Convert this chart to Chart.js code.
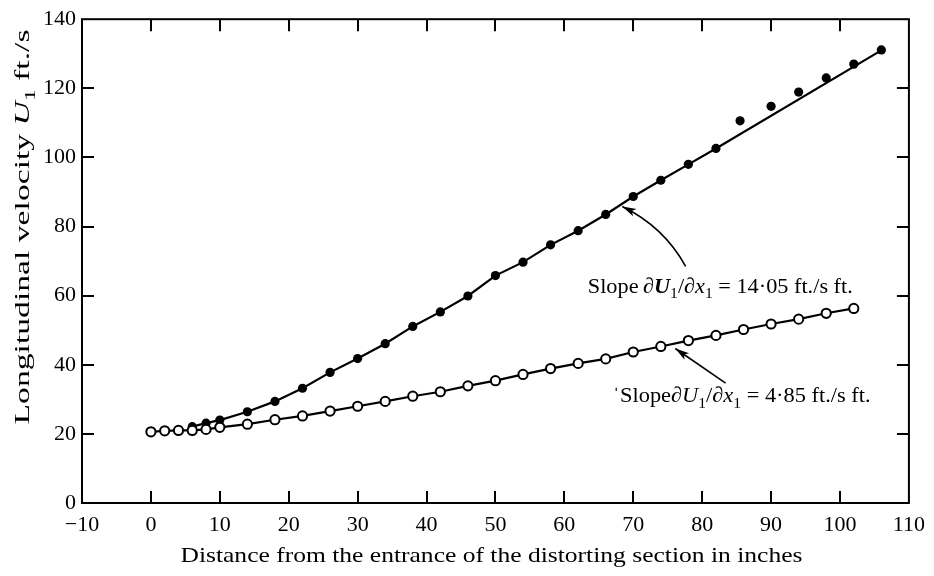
<!DOCTYPE html>
<html>
<head>
<meta charset="utf-8">
<script src="https://cdn.jsdelivr.net/npm/chart.js@4.4.0/dist/chart.umd.min.js"></script>
<style>
  html, body { margin: 0; padding: 0; background: #fff; }
  #wrap { width: 934px; height: 576px; }
</style>
</head>
<body>
<div id="wrap"><canvas id="myChart" width="934" height="576"></canvas></div>
<script>
// open circles (lower curve)
var xOpen = [0, 2, 4, 6, 8, 10, 14, 18, 22, 26, 30, 34, 38, 42, 46, 50, 54, 58, 62, 66, 70, 74, 78, 82, 86, 90, 94, 98, 102];
var yOpen = [20.6, 20.9, 21.0, 21.0, 21.3, 21.9, 22.8, 24.1, 25.2, 26.6, 28.0, 29.4, 30.9, 32.2, 33.9, 35.4, 37.2, 38.9, 40.4, 41.7, 43.7, 45.3, 47.0, 48.5, 50.2, 51.8, 53.2, 54.9, 56.3];

// filled circles (upper curve)
var xFilled = [6, 8, 10, 14, 18, 22, 26, 30, 34, 38, 42, 46, 50, 54, 58, 62, 66, 70, 74, 78, 82, 85.5, 90, 94, 98, 102, 106];
var yFilled = [22.1, 23.1, 24.0, 26.4, 29.4, 33.2, 37.8, 41.8, 46.1, 51.1, 55.3, 59.9, 65.8, 69.7, 74.7, 78.8, 83.5, 88.7, 93.4, 98.0, 102.6, 110.6, 114.8, 118.9, 123.0, 127.0, 131.1];

// drawn curve through the filled points (straight slope line at the end)
var xFit = [6, 8, 10, 14, 18, 22, 26, 30, 34, 38, 42, 46, 50, 54, 58, 62, 66, 70, 74, 78, 82, 105.5];
var yFit = [22.1, 23.1, 24.0, 26.4, 29.4, 33.2, 37.8, 41.8, 46.1, 51.1, 55.3, 59.9, 65.8, 69.7, 74.7, 78.8, 83.5, 88.7, 93.4, 98.0, 102.6, 130.4];

var xTicks = { min: -10, max: 110, step: 10 };
var yTicks = { min: 0, max: 140, step: 20 };

var xTitle = 'Distance from the entrance of the distorting section in inches';

// annotation labels, anchored in data units
var note1 = { x: 63.4, y: 60.9, width: 265, segs: [
  { t: 'Slope\u2009' }, { t: '\u2202' }, { t: 'U', it: true, b: true }, { t: '1', sub: true },
  { t: '/' }, { t: '\u2202' }, { t: 'x', it: true }, { t: '1', sub: true }, { t: ' = 14\u00b705 ft./s ft.' }
]};
var note2 = { x: 67.0, y: 29.1, width: 258, segs: [
  { t: '\u02c8Slope' }, { t: '\u2202' }, { t: 'U', it: true }, { t: '1', sub: true },
  { t: '/' }, { t: '\u2202' }, { t: 'x', it: true }, { t: '1', sub: true }, { t: ' = 4\u00b785 ft./s ft.' }
]};
// arrows: tail, control, head (data units)
var arrow1 = [[77.6, 68.5], [74.4, 80.0], [68.4, 85.8]];
var arrow2 = [[83.4, 34.7], [79.8, 39.6], [76.1, 44.7]];

var FONT = '"Liberation Serif", "Times New Roman", serif';

function pts(xs, ys) {
  var out = [];
  for (var i = 0; i < xs.length; i++) out.push({ x: xs[i], y: ys[i] });
  return out;
}

function drawRich(ctx, segs, x, y, size, align, targetW) {
  function fontFor(s) {
    var sz = s.sub ? size * 0.7 : size;
    return (s.it ? 'italic ' : '') + (s.b ? 'bold ' : '') + sz + 'px ' + FONT;
  }
  var total = 0;
  segs.forEach(function (s) { ctx.font = fontFor(s); s.w = ctx.measureText(s.t).width; total += s.w; });
  var sx = targetW ? targetW / total : 1;
  ctx.save();
  ctx.translate(x, y);
  ctx.scale(sx, 1);
  var cx = align === 'center' ? -total / 2 : 0;
  ctx.textBaseline = 'alphabetic';
  ctx.textAlign = 'left';
  ctx.fillStyle = '#000';
  segs.forEach(function (s) {
    ctx.font = fontFor(s);
    ctx.fillText(s.t, cx, s.sub ? size * 0.25 : 0);
    cx += s.w;
  });
  ctx.restore();
}

function drawArrow(ctx, sx, sy, a) {
  var p = a.map(function (q) { return [sx.getPixelForValue(q[0]), sy.getPixelForValue(q[1])]; });
  ctx.save();
  ctx.strokeStyle = '#000';
  ctx.lineWidth = 1.6;
  ctx.beginPath();
  ctx.moveTo(p[0][0], p[0][1]);
  ctx.quadraticCurveTo(p[1][0], p[1][1], p[2][0], p[2][1]);
  ctx.stroke();
  var ang = Math.atan2(p[2][1] - p[1][1], p[2][0] - p[1][0]);
  var L = 14, W = 4;
  ctx.translate(p[2][0], p[2][1]);
  ctx.rotate(ang);
  ctx.beginPath();
  ctx.moveTo(0, 0);
  ctx.lineTo(-L, -W);
  ctx.lineTo(-L * 0.75, 0);
  ctx.lineTo(-L, W);
  ctx.closePath();
  ctx.fillStyle = '#000';
  ctx.fill();
  ctx.restore();
}

var framePlugin = {
  id: 'frame',
  afterDraw: function (chart) {
    var ctx = chart.ctx, a = chart.chartArea;
    var sx = chart.scales.x, sy = chart.scales.y;
    ctx.save();
    ctx.strokeStyle = '#000';
    ctx.lineWidth = 2;
    ctx.strokeRect(a.left, a.top, a.right - a.left, a.bottom - a.top);
    var tl = 12;
    ctx.beginPath();
    sx.ticks.forEach(function (t) {
      if (t.value <= xTicks.min || t.value >= xTicks.max) return;
      var px = Math.round(sx.getPixelForValue(t.value));
      ctx.moveTo(px, a.bottom); ctx.lineTo(px, a.bottom - tl);
      ctx.moveTo(px, a.top); ctx.lineTo(px, a.top + tl);
    });
    sy.ticks.forEach(function (t) {
      if (t.value <= yTicks.min || t.value >= yTicks.max) return;
      var py = Math.round(sy.getPixelForValue(t.value));
      ctx.moveTo(a.left, py); ctx.lineTo(a.left + tl, py);
      ctx.moveTo(a.right, py); ctx.lineTo(a.right - tl, py);
    });
    ctx.stroke();
    ctx.restore();

    // axis titles
    drawRich(ctx, [{ t: xTitle }], (a.left + a.right) / 2 - 4, 562, 22, 'center', 622);
    ctx.save();
    ctx.translate(29, 227);
    ctx.rotate(-Math.PI / 2);
    drawRich(ctx, [{ t: 'Longitudinal velocity ' }, { t: 'U', it: true }, { t: '1', sub: true }, { t: ' ft./s' }], 0, 0, 22, 'center', 395);
    ctx.restore();

    // annotations
    [note1, note2].forEach(function (n) {
      drawRich(ctx, n.segs, sx.getPixelForValue(n.x), sy.getPixelForValue(n.y), 22, 'left', n.width);
    });
    drawArrow(ctx, sx, sy, arrow1);
    drawArrow(ctx, sx, sy, arrow2);
  }
};

var ctx = document.getElementById('myChart').getContext('2d');
var myChart = new Chart(ctx, {
  type: 'scatter',
  data: {
    datasets: [
      {
        label: 'open',
        data: pts(xOpen, yOpen),
        showLine: true,
        borderColor: '#000',
        borderWidth: 2.2,
        pointRadius: 4.6,
        pointBorderWidth: 2,
        pointBackgroundColor: '#fff',
        pointBorderColor: '#000',
        tension: 0,
        order: 0
      },
      {
        label: 'filled',
        data: pts(xFilled, yFilled),
        showLine: false,
        pointRadius: 4.6,
        pointBorderWidth: 0,
        pointBackgroundColor: '#000',
        pointBorderColor: '#000',
        order: 1
      },
      {
        label: 'fit',
        data: pts(xFit, yFit),
        showLine: true,
        borderColor: '#000',
        borderWidth: 2.2,
        pointRadius: 0,
        tension: 0,
        order: 2
      }
    ]
  },
  options: {
    responsive: false,
    animation: false,
    devicePixelRatio: 1,
    layout: { padding: { top: 13, right: 21, left: 0, bottom: 0 } },
    plugins: { legend: { display: false }, tooltip: { enabled: false } },
    scales: {
      x: {
        type: 'linear',
        min: xTicks.min, max: xTicks.max,
        grid: { display: false, drawTicks: false },
        border: { display: false },
        afterFit: function (s) { s.height = 73; },
        ticks: {
          stepSize: xTicks.step, autoSkip: false, maxRotation: 0, padding: 9,
          color: '#000', font: { family: FONT, size: 22 },
          callback: function (v) { return v < 0 ? '\u2212' + Math.abs(v) : String(v); }
        }
      },
      y: {
        type: 'linear',
        min: yTicks.min, max: yTicks.max,
        grid: { display: false, drawTicks: false },
        border: { display: false },
        afterFit: function (s) { s.width = 82; },
        ticks: {
          stepSize: yTicks.step, autoSkip: false, padding: 6,
          color: '#000', font: { family: FONT, size: 22 }
        }
      }
    }
  },
  plugins: [framePlugin]
});
</script>
</body>
</html>
